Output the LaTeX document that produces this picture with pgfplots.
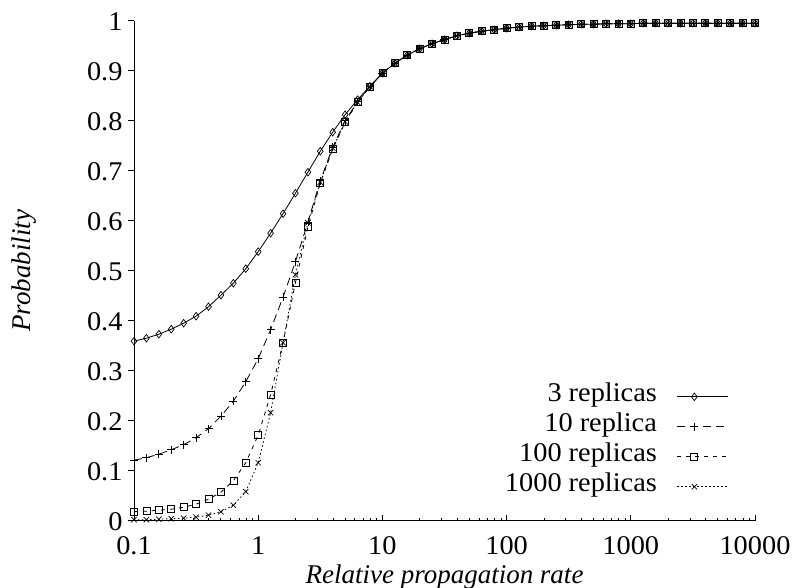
\documentclass[border=0pt]{standalone}
\usepackage{pgfplots}
\pgfplotsset{compat=1.18}
\usepackage{pgfplotstable}
\usepackage{fontspec}
\setmainfont{Liberation Serif}[FakeStretch=1.05]
\newfontfamily\labelserif{Liberation Serif}

% Probability versus relative propagation rate, ten samples per decade
\pgfplotstableread{
x      r3     r10    r100   r1000
0.1    0.359  0.121  0.018  0.002
0.1259 0.365  0.126  0.019  0.002
0.1585 0.373  0.133  0.021  0.003
0.1995 0.383  0.142  0.023  0.004
0.2512 0.395  0.152  0.027  0.005
0.3162 0.409  0.166  0.033  0.007
0.3981 0.428  0.184  0.043  0.011
0.5012 0.451  0.209  0.057  0.018
0.6310 0.475  0.239  0.080  0.031
0.7943 0.504  0.278  0.116  0.058
1      0.538  0.324  0.171  0.116
1.259  0.575  0.382  0.252  0.216
1.585  0.614  0.447  0.356  0.356
1.995  0.655  0.518  0.476  0.492
2.512  0.697  0.597  0.587  0.596
3.162  0.739  0.680  0.675  0.677
3.981  0.777  0.747  0.743  0.745
5.012  0.812  0.800  0.797  0.798
6.310  0.842  0.838  0.837  0.837
7.943  0.869  0.868  0.868  0.868
10     0.895  0.895  0.895  0.895
12.59  0.915  0.915  0.915  0.915
15.85  0.931  0.931  0.931  0.931
19.95  0.944  0.944  0.944  0.944
25.12  0.954  0.954  0.954  0.954
31.62  0.962  0.962  0.962  0.962
39.81  0.970  0.970  0.970  0.970
50.12  0.975  0.975  0.975  0.975
63.10  0.979  0.979  0.979  0.979
79.43  0.982  0.982  0.982  0.982
100    0.985  0.985  0.985  0.985
125.9  0.987  0.987  0.987  0.987
158.5  0.989  0.989  0.989  0.989
199.5  0.990  0.990  0.990  0.990
251.2  0.991  0.991  0.991  0.991
316.2  0.992  0.992  0.992  0.992
398.1  0.993  0.993  0.993  0.993
501.2  0.993  0.993  0.993  0.993
631.0  0.994  0.994  0.994  0.994
794.3  0.994  0.994  0.994  0.994
1000   0.994  0.994  0.994  0.994
1259   0.995  0.995  0.995  0.995
1585   0.995  0.995  0.995  0.995
1995   0.995  0.995  0.995  0.995
2512   0.995  0.995  0.995  0.995
3162   0.995  0.995  0.995  0.995
3981   0.995  0.995  0.995  0.995
5012   0.995  0.995  0.995  0.995
6310   0.995  0.995  0.995  0.995
7943   0.995  0.995  0.995  0.995
10000  0.995  0.995  0.995  0.995
}\probtable

\begin{document}
\begin{tikzpicture}[font=\fontsize{27}{31}\selectfont]
\path[use as bounding box] (-134pt,-67.3pt) rectangle (658pt,520.7pt);
\begin{axis}[
  at={(0pt,0pt)}, anchor=south west,
  scale only axis, width=621pt, height=500pt,
  xmode=log, xmin=0.1, xmax=10000, ymin=0, ymax=1,
  axis lines=left, axis line style={-, line width=0.8pt},
  clip=false,
  tick align=inside,
  xtick={0.1,1,10,100,1000,10000},
  xticklabels={0.1,1,10,100,1000,10000},
  minor xtick={0.2,0.3,0.4,0.5,0.6,0.7,0.8,0.9,
               2,3,4,5,6,7,8,9,
               20,30,40,50,60,70,80,90,
               200,300,400,500,600,700,800,900,
               2000,3000,4000,5000,6000,7000,8000,9000},
  ytick={0,0.1,0.2,0.3,0.4,0.5,0.6,0.7,0.8,0.9,1},
  yticklabels={0,0.1,0.2,0.3,0.4,0.5,0.6,0.7,0.8,0.9,1},
  major tick length=5.5pt, minor tick length=3pt,
  tick style={line width=0.8pt, black},
  ytick style={xshift=-5.5pt},
  xticklabel style={yshift=-12pt},
  yticklabel style={xshift=-8pt, yshift=-1pt},
  xlabel={\labelserif\itshape Relative propagation rate},
  ylabel={\labelserif\itshape Probability},
  every axis x label/.style={at={(axis description cs:0.5,0)}, anchor=base, yshift=-62.6pt},
  every axis y label/.style={at={(axis description cs:-0.1667,0.5)}, rotate=90, anchor=base},
  legend plot pos=right,
  legend cell align=right,
  legend style={draw=none, fill=none, inner sep=0pt,
    at={(axis description cs:0.958,0.0474)}, anchor=south east,
    row sep=6pt, column sep=20pt,
    nodes={inner sep=0pt, text height=19pt, text depth=5pt}},
  legend image code/.code={\draw[mark repeat=2,mark phase=2,#1]
    plot coordinates {(0pt,-2pt) (17pt,-2pt) (51pt,-2pt)};},
]
\addplot[black, line width=0.8pt, mark=diamond, mark size=3.8pt,
  mark options={solid, line width=0.7pt}] table[x=x, y=r3] {\probtable};
\addlegendentry{3 replicas}
\addplot[black, line width=0.8pt, dash pattern=on 8pt off 5pt, mark=+, mark size=4pt,
  mark options={solid, line width=0.7pt}] table[x=x, y=r10] {\probtable};
\addlegendentry{10 replica}
\addplot[black, line width=0.8pt, dash pattern=on 4pt off 5pt, mark=square, mark size=3.5pt,
  mark options={solid, line width=0.7pt}] table[x=x, y=r100] {\probtable};
\addlegendentry{100 replicas}
\addplot[black, line width=0.8pt, dash pattern=on 1.5pt off 2.5pt, mark=x, mark size=3.8pt,
  mark options={solid, line width=0.7pt}] table[x=x, y=r1000] {\probtable};
\addlegendentry{1000 replicas}
\end{axis}
\end{tikzpicture}
\end{document}
